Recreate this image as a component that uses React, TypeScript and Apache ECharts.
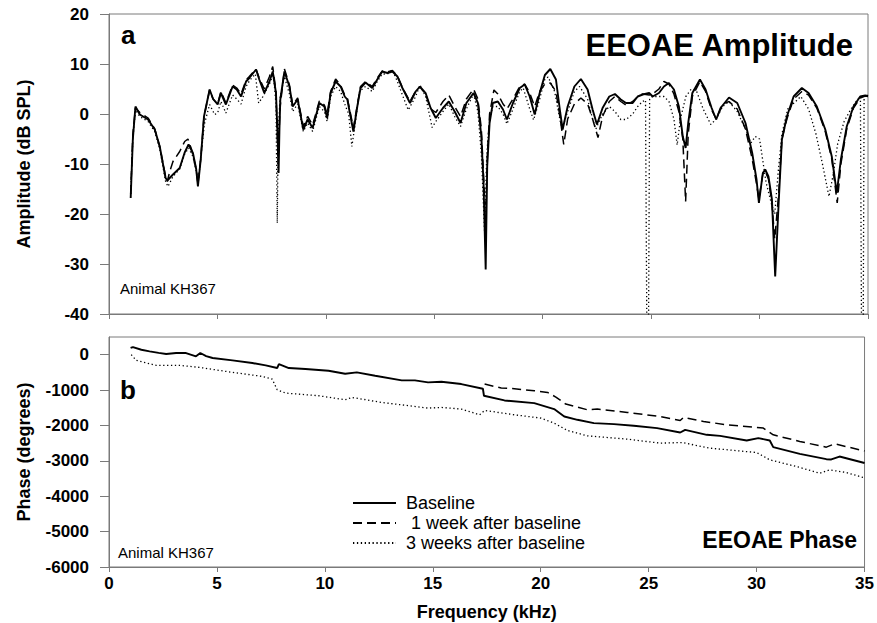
import React, { useEffect, useRef } from "react";
import * as echarts from "echarts";

const FONT = "'Liberation Sans', Arial, Helvetica, sans-serif";

// ---------- Panel a: amplitude (dB SPL) ----------
const baseAmpFreq = [1.0, 1.1, 1.22, 1.42, 1.8, 2.11, 2.34, 2.61, 2.69, 2.95, 3.26, 3.49, 3.67, 3.87, 4.02, 4.1, 4.23, 4.38, 4.64, 4.8, 5.01, 5.16, 5.39, 5.7, 5.89, 6.09, 6.32, 6.47, 6.78, 6.93, 7.16, 7.4, 7.55, 7.7, 7.78, 7.82, 7.86, 7.9, 8.09, 8.32, 8.47, 8.7, 8.96, 9.16, 9.39, 9.7, 9.93, 10.06, 10.22, 10.45, 10.68, 10.87, 10.99, 11.27, 11.45, 11.6, 11.83, 12.14, 12.37, 12.6, 12.84, 13.07, 13.3, 13.53, 13.88, 14.14, 14.34, 14.6, 14.83, 15.07, 15.4, 15.67, 15.94, 16.21, 16.48, 16.81, 17.01, 17.17, 17.27, 17.37, 17.44, 17.55, 17.7, 17.93, 18.17, 18.35, 18.63, 18.94, 19.17, 19.4, 19.63, 19.86, 20.1, 20.35, 20.61, 20.81, 20.92, 21.15, 21.46, 21.76, 22.07, 22.3, 22.5, 22.76, 23.07, 23.33, 23.6, 23.84, 24.15, 24.38, 24.61, 24.91, 25.07, 25.36, 25.59, 25.82, 26.05, 26.28, 26.46, 26.59, 26.71, 26.9, 27.25, 27.51, 27.79, 28.0, 28.2, 28.59, 28.97, 29.35, 29.66, 29.86, 29.97, 30.15, 30.26, 30.41, 30.57, 30.72, 30.88, 31.03, 31.26, 31.57, 31.95, 32.26, 32.64, 33.03, 33.33, 33.56, 33.75, 34.02, 34.33, 34.64, 34.87, 35.0];
const baseAmp = [-16.8, -5, 1.5, -0.1, -1.1, -3.1, -6.5, -12.8, -13.3, -12.1, -10.8, -7.7, -6.1, -7.8, -11, -14.5, -9.1, -0.5, 4.9, 3.0, 1.9, 4.2, 1.9, 5.5, 4.9, 3.5, 6.5, 7.2, 8.9, 6.9, 4.2, 6.5, 8.5, 4.2, -5, -11.8, -3, 2.9, 8.5, 5.5, 1.5, 2.9, -3.1, -1.1, -2.8, 2.2, 1.5, -0.8, 4.2, 6.5, 5.5, 3.5, 2.9, -3.5, 1.5, 5.2, 6.3, 5.2, 6.9, 8.5, 8.2, 8.5, 7.5, 5.2, 2.2, 4.5, 5.5, 4.2, 1.2, -0.8, 1.2, 2.5, 0.5, -1.8, 2.2, 4.2, 2.2, -4.5, -13.7, -31.1, -10.5, -1.8, 2.2, 2.5, 0.9, -1.1, 2.2, 5.2, 5.9, 3.5, -0.1, 4.2, 7.8, 9.0, 6.9, 0.2, -3.1, 1.5, 5.5, 7.0, 4.9, 0.9, -2.1, 1.2, 3.5, 4.0, 2.9, 2.2, 2.2, 3.5, 3.9, 4.2, 3.5, 4.2, 5.5, 6.2, 4.9, 1.5, -4.5, -6.8, -1.8, 4.2, 6.9, 4.9, 1.2, -1.1, 1.2, 3.3, 2.2, -1.8, -7.8, -13.1, -17.8, -11.8, -11.1, -12.5, -17.1, -32.5, -17.8, -5.1, -0.5, 3.5, 5.2, 4.2, 1.5, -3.1, -8.5, -15.8, -9.1, -2.5, 1.5, 3.5, 3.7, 3.6];

const week1AmpFreq = [1.0, 1.1, 1.22, 1.42, 1.8, 2.11, 2.34, 2.61, 2.69, 2.8, 2.95, 3.26, 3.49, 3.64, 3.8, 4.02, 4.1, 4.23, 4.38, 4.64, 4.8, 5.01, 5.16, 5.39, 5.7, 5.89, 6.09, 6.32, 6.47, 6.78, 6.93, 7.16, 7.4, 7.55, 7.7, 7.8, 7.88, 8.09, 8.32, 8.47, 8.7, 8.96, 9.16, 9.39, 9.7, 9.93, 10.06, 10.22, 10.45, 10.68, 10.87, 10.99, 11.27, 11.45, 11.6, 11.83, 12.14, 12.37, 12.6, 12.84, 13.07, 13.3, 13.53, 13.88, 14.14, 14.34, 14.6, 14.83, 15.07, 15.4, 15.67, 15.94, 16.21, 16.48, 16.81, 17.01, 17.17, 17.3, 17.37, 17.45, 17.55, 17.75, 17.93, 18.17, 18.35, 18.63, 18.94, 19.17, 19.4, 19.63, 19.86, 20.1, 20.35, 20.61, 20.81, 20.97, 21.15, 21.46, 21.76, 22.07, 22.3, 22.55, 22.76, 23.07, 23.33, 23.6, 23.84, 24.15, 24.38, 24.61, 24.91, 25.07, 25.36, 25.59, 25.82, 26.05, 26.28, 26.46, 26.59, 26.71, 26.9, 27.25, 27.51, 27.79, 28.0, 28.3, 28.59, 28.97, 29.35, 29.66, 29.86, 29.97, 30.15, 30.26, 30.41, 30.57, 30.7, 30.88, 31.03, 31.26, 31.57, 31.95, 32.26, 32.64, 33.03, 33.33, 33.58, 33.75, 34.02, 34.33, 34.64, 34.87, 35.0];
const week1Amp = [-16, -4, 1.2, 0.3, -0.8, -3, -6.5, -12.5, -13.5, -11.5, -9.5, -7.5, -5.5, -5.0, -7, -11, -14, -9, -0.5, 4.8, 3.0, 2.0, 4.5, 2.2, 5.8, 5.2, 4.0, 6.8, 7.5, 9.0, 7.2, 5.0, 7.5, 9.5, 4.5, -10, 1, 9.0, 5.8, 1.8, 3.2, -2.5, -0.5, -2.2, 2.6, 1.8, 0, 4.5, 7.0, 5.8, 3.8, 3.2, -2.8, 1.8, 5.5, 6.5, 5.5, 7.2, 8.6, 8.4, 8.7, 7.6, 5.3, 2.5, 4.6, 5.4, 4.0, 1.0, 0.3, 2.5, 3.8, 1.5, -0.5, 3.0, 5.0, 3.0, -3, -15, -22, -8, 0, 4.8, 4.0, 2.0, 1.0, 3.0, 5.5, 6.0, 4.2, 1.5, 4.5, 6.0, 6.2, 4.5, -1, -6.1, -1.0, 2.0, 3.2, 2.0, -1.0, -4.7, -0.5, 2.5, 3.5, 2.5, 1.8, 2.5, 3.5, 4.0, 3.8, 4.0, 5.0, 6.5, 6.0, 4.0, 0.5, -5, -17.5, -4, 3.5, 6.5, 4.5, 0.8, -1.0, 2.0, 2.5, 1.0, -3.0, -9.0, -14, -17, -12, -11.5, -13, -18, -25, -16, -5, -1, 3.0, 4.5, 3.8, 1.2, -3.5, -9, -17.8, -10, -3, 1.2, 3.2, 3.6, 3.5];

const week3AmpFreq = [1.0, 1.1, 1.22, 1.42, 1.8, 2.11, 2.34, 2.61, 2.72, 2.95, 3.26, 3.49, 3.67, 3.87, 4.05, 4.12, 4.25, 4.4, 4.64, 4.87, 5.01, 5.16, 5.39, 5.7, 5.89, 6.09, 6.32, 6.5, 6.75, 6.9, 7.1, 7.4, 7.58, 7.7, 7.76, 7.8, 7.88, 8.09, 8.32, 8.47, 8.7, 8.96, 9.16, 9.39, 9.7, 9.93, 10.06, 10.22, 10.45, 10.68, 10.87, 11.05, 11.2, 11.35, 11.55, 11.83, 12.14, 12.37, 12.6, 12.84, 13.07, 13.3, 13.53, 13.8, 14.14, 14.34, 14.6, 14.9, 15.07, 15.4, 15.67, 15.94, 16.21, 16.48, 16.81, 17.01, 17.17, 17.32, 17.42, 17.55, 17.7, 17.93, 18.17, 18.35, 18.63, 18.94, 19.1, 19.4, 19.58, 19.86, 20.1, 20.25, 20.55, 20.81, 20.9, 21.15, 21.46, 21.7, 22.07, 22.3, 22.45, 22.76, 23.07, 23.33, 23.6, 23.84, 24.15, 24.38, 24.6, 24.74, 24.8, 24.88, 24.93, 25.07, 25.36, 25.59, 25.82, 26.05, 26.2, 26.35, 26.6, 26.85, 27.1, 27.4, 27.75, 28.0, 28.3, 28.59, 28.97, 29.35, 29.6, 29.8, 30.0, 30.3, 30.55, 30.7, 30.85, 31.03, 31.3, 31.9, 32.26, 32.6, 32.9, 33.2, 33.4, 33.6, 33.9, 34.2, 34.5, 34.65, 34.7, 34.78, 34.82, 35.0];
const week3Amp = [-16, -5, 0.8, -0.5, -1.5, -3.5, -7, -13.5, -14.5, -12.5, -11, -8, -6.8, -8.5, -12, -13.5, -8, -2, 1.9, -0.1, 0.2, 2.5, 0.2, 3.8, 3.0, 2.0, 5.5, 6.8, 8.0, 2.2, 3.5, 6.0, 8.0, 2.0, -21.8, -5, 3, 7.5, 4.0, 0.5, 2.0, -3.5, -1.8, -3.5, 1.5, 0.5, -1.5, 3.5, 5.5, 4.5, 2.0, 0, -6.5, -2, 4.5, 5.5, 4.5, 6.5, 8.0, 8.0, 8.8, 6.5, 3.8, 0.8, 3.5, 5.8, 3.5, -2.7, -1.5, 0.5, 2.0, -0.5, -2.5, 1.0, 4.0, 0.5, -8, -23.7, -8, -1.0, 1.5, 1.5, 0, -2, 1.0, 4.5, 5.2, 1.0, -1.2, 3.0, 7.0, 7.4, 4.5, -1.5, -3, 0.5, 4.5, 5.5, 3.0, -1.0, -3.0, 0.0, 1.5, 0.5, -1.1, -1.1, 0.0, 1.5, 2.5, 2.8, -42, -42, 3.0, 3.5, 3.5, 3.5, 2.5, -1.0, -6.2, -1.0, 3.5, 5.0, 4.5, 1.0, -2.1, -1.0, 1.5, 2.5, 0.5, -3.0, -5.8, -4.5, -5.0, -13.7, -18, -20, -12, -4.0, 1.0, 3.5, 1.0, -4.0, -10, -16.5, -12, -6.0, -1.5, 0.9, 2.8, 3.5, -42, -42, 3.5, 3.8];

// ---------- Panel b: phase (degrees) ----------
const basePhaseFreq = [1.0, 1.11, 1.5, 1.88, 2.3, 2.65, 3.11, 3.57, 4.03, 4.23, 4.5, 4.8, 5.72, 6.64, 7.26, 7.79, 7.87, 8.33, 9.1, 10.17, 10.94, 11.48, 12.33, 13.56, 14.17, 14.78, 15.4, 16.32, 17.32, 17.37, 18.32, 19.7, 20.62, 21.09, 21.7, 22.46, 23.39, 24.31, 25.39, 26.46, 26.69, 27.69, 28.31, 29.54, 30.08, 30.61, 30.77, 32.0, 33.23, 33.46, 33.84, 35.0];
const basePhase = [190, 215, 140, 95, 50, 20, 47, 47, -47, 47, -40, -94, -160, -236, -302, -377, -264, -377, -406, -453, -538, -500, -594, -726, -726, -783, -764, -830, -962, -1160, -1293, -1368, -1537, -1746, -1840, -1934, -1962, -2010, -2075, -2199, -2123, -2264, -2293, -2425, -2358, -2425, -2613, -2802, -2953, -2960, -2878, -3060];

const week1PhaseFreq = [17.4, 18.17, 18.78, 19.7, 20.32, 20.7, 21.16, 22.16, 22.62, 24.01, 25.54, 26.46, 26.61, 27.54, 28.62, 30.31, 30.77, 32.0, 33.23, 33.61, 35.0];
const week1Phase = [-830, -943, -962, -1019, -1066, -1198, -1396, -1557, -1537, -1632, -1746, -1858, -1773, -1887, -1981, -2075, -2264, -2453, -2613, -2519, -2720];

const week3PhaseFreq = [1.03, 1.26, 2.19, 3.26, 4.18, 5.72, 7.1, 7.56, 7.79, 8.18, 9.71, 10.94, 11.25, 12.64, 14.78, 15.4, 16.32, 17.17, 17.4, 18.78, 20.01, 20.62, 21.24, 22.16, 24.01, 25.54, 26.54, 27.85, 30.0, 30.61, 31.85, 32.92, 33.38, 34.15, 35.0];
const week3Phase = [0, -160, -302, -302, -358, -500, -613, -689, -990, -1085, -1160, -1274, -1208, -1349, -1509, -1490, -1537, -1698, -1575, -1698, -1793, -1934, -2142, -2293, -2387, -2500, -2482, -2642, -2765, -2972, -3161, -3349, -3255, -3330, -3480];

// ---------- axes / labels ----------
const seriesNames = ["Baseline", " 1 week after baseline", "3 weeks after baseline"];
const freqMin = 0;
const freqMax = 35;
const freqStep = 5;
const ampMin = -40;
const ampMax = 20;
const ampStep = 10;
const phaseMin = -6000;
const phaseMax = 500;
const phaseStep = 1000;
const phaseTicks = [0, -1000, -2000, -3000, -4000, -5000, -6000];

const pair = (xs: number[], ys: number[]) => xs.map((x, i) => [x, ys[i]]);

const AXIS_GRAY = "#7a7a7a";

export default function App() {
  const ref = useRef<HTMLDivElement>(null);

  useEffect(() => {
    if (!ref.current) return;
    const chart = echarts.init(ref.current, null, { renderer: "svg" });

    const styleFor = (i: number) => {
      if (i === 0) return { color: "#000", width: 1.9, type: "solid" as any };
      if (i === 1) return { color: "#000", width: 1.5, type: [9, 5] as any };
      return { color: "#000", width: 1.3, type: [1.3, 2.6] as any };
    };

    const mk = (name: string, idx: number, grid: number, data: number[][], z: number) => ({
      name,
      type: "line",
      xAxisIndex: grid,
      yAxisIndex: grid,
      data,
      showSymbol: false,
      symbol: "none",
      lineStyle: styleFor(idx),
      itemStyle: { color: "#000" },
      z,
      clip: true,
      emphasis: { disabled: true },
    });

    const tickLabel = {
      fontFamily: FONT,
      fontSize: 17,
      fontWeight: "bold" as const,
      color: "#000",
    };
    const axisName = {
      fontFamily: FONT,
      fontSize: 18,
      fontWeight: "bold" as const,
      color: "#000",
    };

    chart.setOption({
      animation: false,
      backgroundColor: "#fff",
      grid: [
        { left: 109, right: 9, top: 14, height: 300, show: true, borderColor: AXIS_GRAY, borderWidth: 1, backgroundColor: "transparent" },
        { left: 109, right: 9, top: 337, height: 230, show: true, borderColor: AXIS_GRAY, borderWidth: 1, backgroundColor: "transparent" },
      ],
      xAxis: [
        {
          gridIndex: 0,
          type: "value",
          min: freqMin,
          max: freqMax,
          interval: freqStep,
          axisLine: { onZero: false, lineStyle: { color: AXIS_GRAY } },
          axisTick: { length: 5, lineStyle: { color: AXIS_GRAY } },
          axisLabel: { show: false },
          splitLine: { show: false },
        },
        {
          gridIndex: 1,
          type: "value",
          min: freqMin,
          max: freqMax,
          interval: freqStep,
          axisLine: { onZero: false, lineStyle: { color: AXIS_GRAY } },
          axisTick: { length: 5, lineStyle: { color: AXIS_GRAY } },
          axisLabel: { ...tickLabel, margin: 8 },
          splitLine: { show: false },
          name: "Frequency (kHz)",
          nameLocation: "middle",
          nameGap: 36,
          nameTextStyle: axisName,
        },
      ],
      yAxis: [
        {
          gridIndex: 0,
          type: "value",
          min: ampMin,
          max: ampMax,
          interval: ampStep,
          axisLine: { show: true, onZero: false, lineStyle: { color: AXIS_GRAY } },
          axisTick: { show: true, length: 9, lineStyle: { color: AXIS_GRAY } },
          axisLabel: { ...tickLabel, margin: 20 },
          splitLine: { show: false },
          name: "Amplitude (dB SPL)",
          nameLocation: "middle",
          nameGap: 76,
          nameTextStyle: axisName,
        },
        {
          gridIndex: 1,
          type: "value",
          min: phaseMin,
          max: phaseMax,
          interval: phaseStep,
          axisLine: { show: true, onZero: false, lineStyle: { color: AXIS_GRAY } },
          axisTick: { show: true, length: 9, lineStyle: { color: AXIS_GRAY }, customValues: phaseTicks },
          axisLabel: {
            ...tickLabel,
            margin: 20,
            showMinLabel: true,
            showMaxLabel: false,
            formatter: (v: number) => (phaseTicks.indexOf(v) >= 0 ? String(v) : ""),
          },
          splitLine: { show: false },
          name: "Phase (degrees)",
          nameLocation: "middle",
          nameGap: 76,
          nameTextStyle: axisName,
        },
      ],
      legend: {
        data: seriesNames,
        orient: "vertical",
        left: 352,
        top: 494,
        itemWidth: 43,
        itemHeight: 12,
        itemGap: 2,
        padding: 0,
        selectedMode: false,
        itemStyle: { opacity: 0, borderWidth: 0 },
        textStyle: { fontFamily: FONT, fontSize: 18, color: "#000", padding: [0, 0, 0, 5] },
      },
      graphic: [
        { type: "text", x: 121, y: 35, style: { text: "a", fontFamily: FONT, fontSize: 26, fontWeight: "bold", fill: "#000", align: "left", verticalAlign: "middle" } },
        { type: "text", x: 853, y: 45, style: { text: "EEOAE Amplitude", fontFamily: FONT, fontSize: 31, fontWeight: "bold", fill: "#000", align: "right", verticalAlign: "middle" } },
        { type: "text", x: 120, y: 288, style: { text: "Animal KH367", fontFamily: FONT, fontSize: 15, fill: "#000", align: "left", verticalAlign: "middle" } },
        { type: "text", x: 120, y: 390, style: { text: "b", fontFamily: FONT, fontSize: 26, fontWeight: "bold", fill: "#000", align: "left", verticalAlign: "middle" } },
        { type: "text", x: 857, y: 540, style: { text: "EEOAE Phase", fontFamily: FONT, fontSize: 23, fontWeight: "bold", fill: "#000", align: "right", verticalAlign: "middle" } },
        { type: "text", x: 118, y: 552, style: { text: "Animal KH367", fontFamily: FONT, fontSize: 15, fill: "#000", align: "left", verticalAlign: "middle" } },
      ],
      series: [
        mk(seriesNames[2], 2, 0, pair(week3AmpFreq, week3Amp), 2),
        mk(seriesNames[1], 1, 0, pair(week1AmpFreq, week1Amp), 3),
        mk(seriesNames[0], 0, 0, pair(baseAmpFreq, baseAmp), 4),
        mk(seriesNames[2], 2, 1, pair(week3PhaseFreq, week3Phase), 2),
        mk(seriesNames[1], 1, 1, pair(week1PhaseFreq, week1Phase), 3),
        mk(seriesNames[0], 0, 1, pair(basePhaseFreq, basePhase), 4),
      ],
    });

    return () => chart.dispose();
  }, []);

  return (
    <div
      ref={ref}
      style={{ position: "fixed", left: 0, top: 0, width: 877, height: 623, background: "#fff" }}
    />
  );
}
